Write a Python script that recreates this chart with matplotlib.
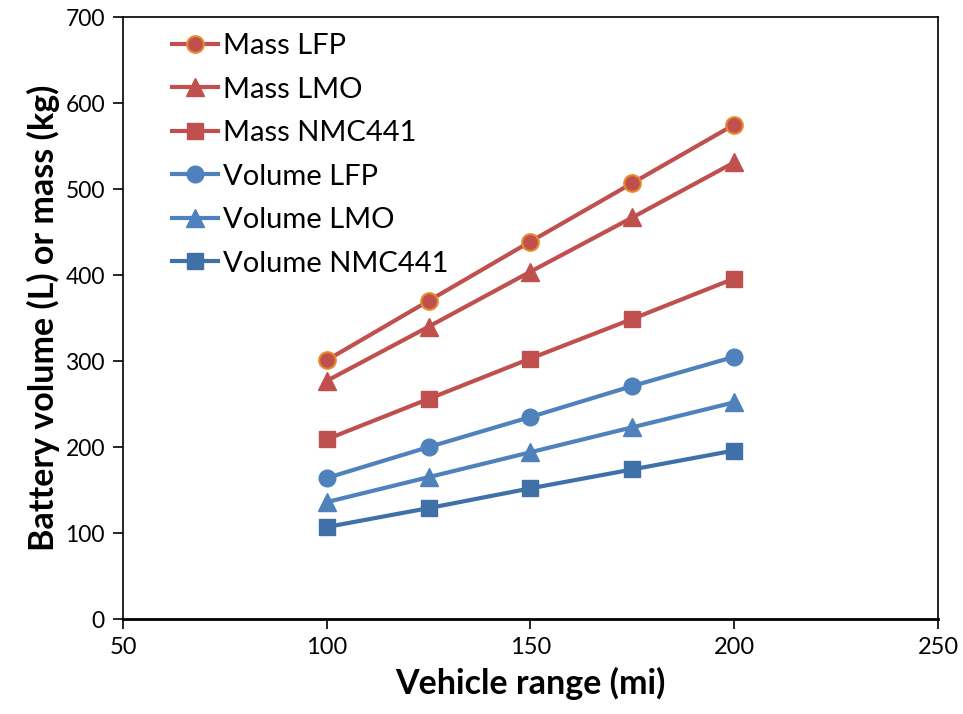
import matplotlib
matplotlib.use('Agg')
import matplotlib.pyplot as plt

plt.rcParams['font.family'] = ['Lato', 'DejaVu Sans']

# vehicle range (mi)
ranges = [100, 125, 150, 175, 200]

mass_lfp = [301, 370, 439, 507, 575]
mass_lmo = [277, 340, 404, 467, 531]
mass_nmc = [209, 256, 303, 349, 396]
vol_lfp = [164, 200, 235, 271, 305]
vol_lmo = [136, 165, 194, 223, 252]
vol_nmc = [107, 129, 152, 174, 196]

red = '#C0504D'
blue = '#4F81BD'
dblue = '#4070A8'

fig = plt.figure(figsize=(9.63, 7.14), dpi=100)
ax = fig.add_axes([0.1277, 0.133, 0.8463, 0.843])

ax.plot(ranges, mass_lfp, color=red, lw=3, marker='o', ms=12,
        mfc=red, mec='#E8892E', mew=1.5, label='Mass LFP')
ax.plot(ranges, mass_lmo, color=red, lw=3, marker='^', ms=13,
        mfc=red, mec=red, label='Mass LMO')
ax.plot(ranges, mass_nmc, color=red, lw=3, marker='s', ms=11,
        mfc=red, mec=red, label='Mass NMC441')
ax.plot(ranges, vol_lfp, color=blue, lw=3, marker='o', ms=12,
        mfc=blue, mec=blue, label='Volume LFP')
ax.plot(ranges, vol_lmo, color=blue, lw=3, marker='^', ms=13,
        mfc=blue, mec=blue, label='Volume LMO')
ax.plot(ranges, vol_nmc, color=dblue, lw=3, marker='s', ms=11,
        mfc=dblue, mec=dblue, label='Volume NMC441')

ax.set_xlim(50, 250)
ax.set_ylim(0, 700)
ax.set_xticks([50, 100, 150, 200, 250])
ax.set_yticks(range(0, 701, 100))

for s in ax.spines.values():
    s.set_linewidth(1.2)
    s.set_color('black')
ax.spines['bottom'].set_linewidth(2)

ax.tick_params(direction='out', length=7, width=1.2, labelsize=16.5, pad=6)
for lab in ax.get_xticklabels():
    lab.set_family(['Liberation Sans Narrow', 'Lato', 'DejaVu Sans'])
    lab.set_fontsize(17)

ax.set_xlabel('Vehicle range (mi)', fontsize=24.5, fontweight='bold', labelpad=6)
ax.set_ylabel('Battery volume (L) or mass (kg)', fontsize=24.5, fontweight='bold', labelpad=4)

ax.legend(loc='upper left', bbox_to_anchor=(0.04, 1.0), frameon=False,
          fontsize=21, handlelength=1.6, handletextpad=0.15, labelspacing=0.6,
          borderaxespad=0.15)

fig.savefig('out.png', dpi=100)
